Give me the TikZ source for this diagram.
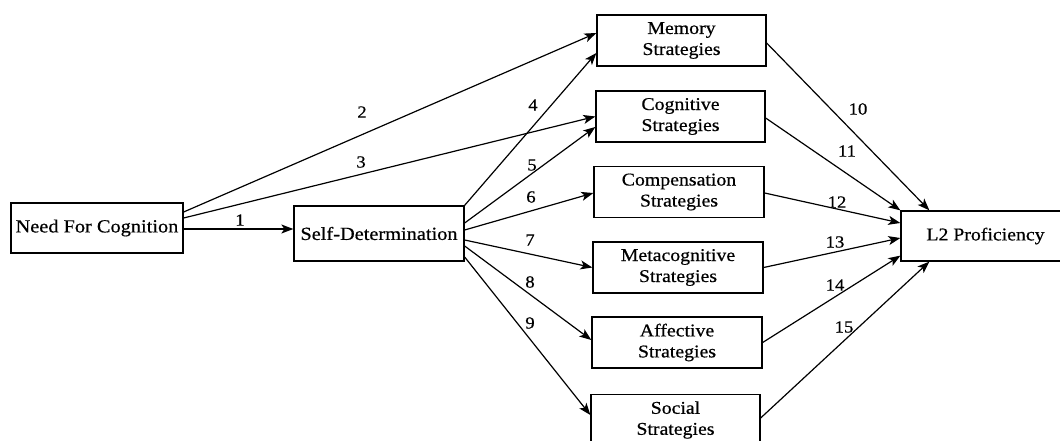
\documentclass[tikz,border=0pt]{standalone}
\usepackage{fontspec}
\setmainfont[FakeStretch=1.1,FakeBold=0.6]{Liberation Serif}
\usetikzlibrary{arrows.meta}
\begin{document}
\begin{tikzpicture}[x=1pt,y=-1pt,
  box/.style={draw,line width=1.3pt,rectangle,minimum width=170pt,minimum height=51pt,
    inner sep=0pt,align=center,font=\fontsize{18}{21}\selectfont},
  path/.style={line width=1.2pt,-{Stealth[length=12pt,width=9pt,inset=3pt]}},
  num/.style={font=\fontsize{17}{19}\selectfont,inner sep=0pt}]
\useasboundingbox (0,0) rectangle (1060,441);
% construct boxes
\node[box,minimum width=172pt,minimum height=50pt,font=\fontsize{18.5}{21}\selectfont] (nfc) at (97,228) {Need For Cognition};
\node[box,minimum height=55pt,font=\fontsize{18.5}{21}\selectfont] (sd) at (379,233.5) {Self-Determination};
\node[box,minimum width=169pt] (mem) at (681.5,40.5) {Memory\\Strategies};
\node[box,minimum width=169pt] (cog) at (680.5,116.5) {Cognitive\\Strategies};
\node[box] (comp) at (679,192) {Compensation\\Strategies};
\node[box] (meta) at (678,267.5) {Metacognitive\\Strategies};
\node[box] (aff) at (677,342.5) {Affective\\Strategies};
\node[box,minimum width=169pt] (soc) at (675.5,420) {Social\\Strategies};
\node[box,minimum width=169pt,minimum height=50pt] (l2) at (985.5,236) {L2 Proficiency};
% paths from the predictors
\draw[path] ([yshift=-1pt]nfc.east) -- ([yshift=4.5pt]sd.west);
\draw[path] ([yshift=16pt]nfc.east) -- ([yshift=7.5pt]mem.west);
\draw[path] ([yshift=10pt]nfc.east) -- (cog.west);
\draw[path] (sd.north east) -- ([yshift=-12.5pt]mem.west);
\draw[path] ([yshift=10.5pt]sd.east) -- ([yshift=-10.5pt]cog.west);
\draw[path] ([yshift=3.5pt]sd.east) -- ([yshift=-1pt]comp.west);
\draw[path] ([yshift=-6.5pt]sd.east) -- (meta.west);
\draw[path] ([yshift=-12.5pt]sd.east) -- ([yshift=2.5pt]aff.west);
\draw[path] ([yshift=-23.5pt]sd.east) -- ([yshift=5pt]soc.west);
% paths to proficiency
\draw[path] ([yshift=-2.5pt]mem.east) -- ([xshift=29pt]l2.north west);
\draw[path] ([yshift=-1.5pt]cog.east) -- (l2.north west);
\draw[path] ([yshift=-1pt]comp.east) -- ([yshift=13pt]l2.west);
\draw[path] (meta.east) -- ([yshift=-2pt]l2.west);
\draw[path] (aff.east) -- ([yshift=6pt]l2.south west);
\draw[path] ([yshift=2pt]soc.east) -- ([xshift=29pt]l2.south west);
% path labels
\node[num] (n1) at (240,220) {1};
\node[num] (n2) at (362,112) {2};
\node[num] (n3) at (361,162) {3};
\node[num] (n4) at (533,105) {4};
\node[num] (n5) at (532,165) {5};
\node[num] (n6) at (531,197) {6};
\node[num] (n7) at (530,240) {7};
\node[num] (n8) at (530,282) {8};
\node[num] (n9) at (530,323) {9};
\node[num] (n10) at (858,109) {10};
\node[num] (n11) at (847,151) {11};
\node[num] (n12) at (837,202) {12};
\node[num] (n13) at (835,242) {13};
\node[num] (n14) at (835,285) {14};
\node[num] (n15) at (844,327) {15};
\end{tikzpicture}
\end{document}
